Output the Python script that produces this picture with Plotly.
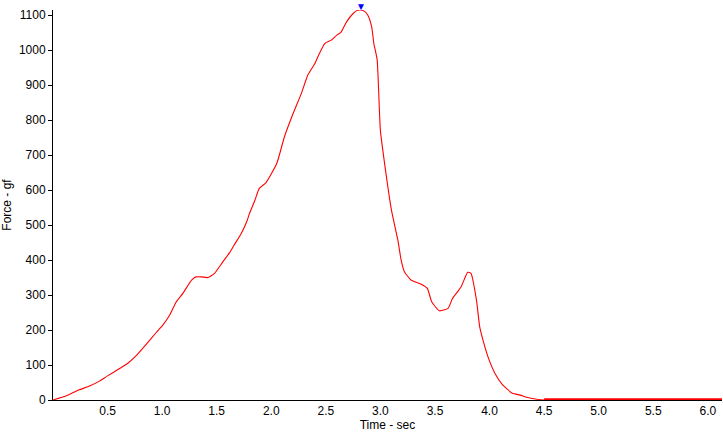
import plotly.graph_objects as go

time_sec = [0, 0.075, 0.15, 0.24, 0.335, 0.426, 0.50, 0.61, 0.686, 0.76, 0.84, 0.946,
            1.006, 1.07, 1.13, 1.19, 1.27, 1.31, 1.36, 1.42, 1.48, 1.556, 1.62, 1.66,
            1.725, 1.78, 1.80, 1.85, 1.89, 1.95, 2.05, 2.12, 2.20, 2.275, 2.335, 2.40,
            2.44, 2.49, 2.55, 2.60, 2.64, 2.69, 2.75, 2.79, 2.82, 2.855, 2.885, 2.92,
            2.94, 2.97, 3.0, 3.05, 3.1, 3.13, 3.16, 3.19, 3.22, 3.28, 3.375, 3.43, 3.47,
            3.54, 3.62, 3.66, 3.74, 3.80, 3.83, 3.88, 3.91, 3.94, 3.985, 4.05, 4.12,
            4.21, 4.28, 4.35, 4.42, 4.5]
force_gf = [0, 7, 16, 29, 40, 54, 69, 90, 105, 126, 154, 193,
            214, 243, 281, 305, 343, 352, 352, 350, 362, 395, 422, 443,
            476, 514, 533, 571, 605, 621, 676, 752, 819, 876, 929, 962,
            990, 1019, 1029, 1043, 1052, 1081, 1105, 1114, 1115, 1111, 1100, 1067,
            1019, 973, 770, 650, 545, 500, 457, 400, 367, 343, 331, 319, 281,
            255, 262, 290, 324, 365, 362, 286, 209, 171, 124, 76, 43,
            19, 14, 7, 3, 0]
zero_time = [4.5, 6.13]
zero_force = [0, 0]

x_ticks = [0.5, 1.0, 1.5, 2.0, 2.5, 3.0, 3.5, 4.0, 4.5, 5.0, 5.5, 6.0]
y_ticks = [0, 100, 200, 300, 400, 500, 600, 700, 800, 900, 1000, 1100]

peak_i = force_gf.index(max(force_gf))

fig = go.Figure()
fig.add_trace(go.Scatter(x=zero_time, y=zero_force, mode="lines",
                         line=dict(color="#ff0000", width=3.5), cliponaxis=False,
                         hoverinfo="skip"))
fig.add_trace(go.Scatter(x=time_sec, y=force_gf, mode="lines",
                         line=dict(color="#ff0000", width=1.1, shape="spline", smoothing=0.5),
                         cliponaxis=False, hoverinfo="skip"))
fig.add_annotation(x=time_sec[peak_i], y=force_gf[peak_i], text="▼", showarrow=False,
                   yanchor="bottom", yshift=-4, font=dict(color="#0000ff", size=10))

fig.update_layout(
    width=723, height=435,
    margin=dict(l=53, r=1, t=10, b=35, autoexpand=False),
    paper_bgcolor="white", plot_bgcolor="white",
    showlegend=False,
    font=dict(family="Liberation Sans, Arial, sans-serif", size=12, color="black"),
    xaxis=dict(range=[0, 6.13], tickvals=x_ticks, ticktext=[f"{v:.1f}" for v in x_ticks],
               showgrid=False, zeroline=False, showline=True, linecolor="black",
               linewidth=1, ticks="", layer="below traces", automargin=False,
               title=dict(text="Time - sec", standoff=0, font=dict(size=12))),
    yaxis=dict(range=[0, 1115], tickvals=y_ticks, showgrid=False, zeroline=False,
               showline=True, linecolor="black", linewidth=1, ticks="outside",
               ticklen=4, tickcolor="black", layer="below traces", automargin=False,
               title=dict(text="Force - gf", standoff=4, font=dict(size=12))),
)

fig.write_html("out.html", config={"displayModeBar": False},
               post_script="document.body.style.margin='0';document.body.style.overflow='hidden';")
